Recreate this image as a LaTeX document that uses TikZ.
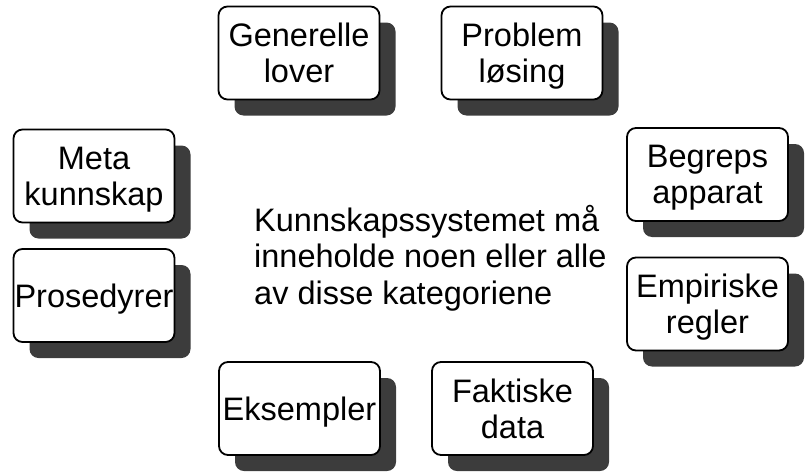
\documentclass[tikz,border=0pt]{standalone}
\usepackage{fontspec}
\setmainfont{Liberation Sans}
\usetikzlibrary{shadows}
\definecolor{shadowgray}{HTML}{3C3C3C}
\begin{document}
\begin{tikzpicture}[x=1pt,y=-1pt,
  catbox/.style={draw=black, line width=1.8pt, fill=white,
    rounded corners=9pt, minimum width=161pt, minimum height=93pt,
    inner sep=0pt, align=center, text depth=0pt,
    font=\fontsize{32.5}{36}\selectfont,
    drop shadow={shadow xshift=16pt, shadow yshift=-16pt,
      fill=shadowgray, opacity=1}},
  bodytext/.style={inner sep=0pt, align=left, anchor=north west,
    font=\fontsize{32.5}{36.5}\selectfont}]
\useasboundingbox (0,0) rectangle (808,471);

% category boxes
\node[catbox] (gen)  at (299,53)   {Generelle\\lover};
\node[catbox] (prob) at (522,53)   {Problem\\løsing};
\node[catbox] (meta) at (94,176)   {Meta\\kunnskap};
\node[catbox] (pros) at (94,295.5) {Prosedyrer};
\node[catbox] (begr) at (707.5,174.5) {Begreps\\apparat};
\node[catbox] (empi) at (707.5,304) {Empiriske\\regler};
\node[catbox] (eks)  at (299.5,408.5) {Eksempler};
\node[catbox] (fakt) at (512.5,408.5) {Faktiske\\data};

% central statement
\node[bodytext] (main) at (254,205)
  {Kunnskapssystemet må\\inneholde noen eller alle\\av disse kategoriene};
\end{tikzpicture}
\end{document}
